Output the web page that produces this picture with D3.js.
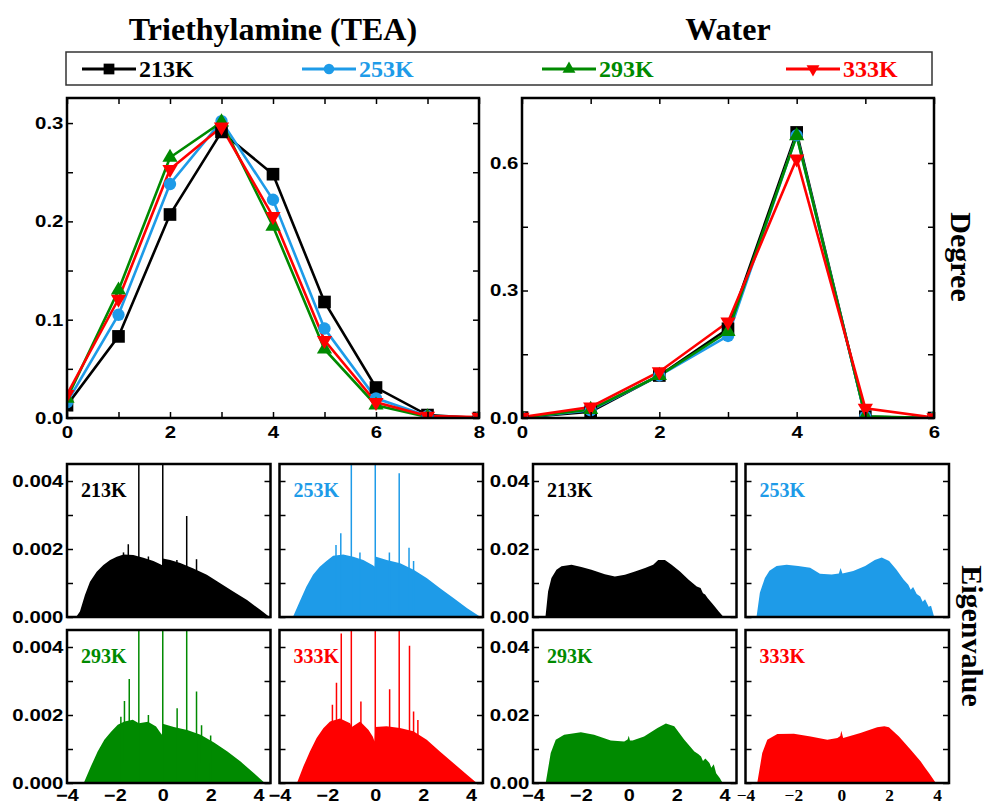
<!DOCTYPE html>
<html>
<head>
<meta charset="utf-8">
<script src="https://cdn.jsdelivr.net/npm/d3@7"></script>
<style>
  body { margin: 0; background: #fff; }
</style>
</head>
<body>
<div id="chart"></div>
<script>
// ---- data ----
const temps = ['213K', '253K', '293K', '333K'];

const teaDegrees = [0, 1, 2, 3, 4, 5, 6, 7, 8];
const teaP213 = [0.013, 0.083, 0.207, 0.291, 0.248, 0.118, 0.031, 0.003, 0.000];
const teaP253 = [0.016, 0.105, 0.238, 0.302, 0.222, 0.091, 0.020, 0.002, 0.000];
const teaP293 = [0.020, 0.130, 0.265, 0.301, 0.195, 0.070, 0.013, 0.001, 0.000];
const teaP333 = [0.024, 0.121, 0.253, 0.296, 0.205, 0.079, 0.016, 0.002, 0.001];

const waterDegrees = [0, 1, 2, 3, 4, 5, 6];
const waterP213 = [0.001, 0.015, 0.100, 0.210, 0.672, 0.003, 0.000];
const waterP253 = [0.001, 0.018, 0.100, 0.193, 0.665, 0.003, 0.000];
const waterP293 = [0.001, 0.020, 0.100, 0.203, 0.664, 0.004, 0.000];
const waterP333 = [0.002, 0.026, 0.109, 0.226, 0.610, 0.023, 0.001];

// eigenvalue spectra: envelope [eigenvalue, density] and narrow peaks [eigenvalue, height]
const teaEnv213 = [[-4, 0], [-3.62, 0], [-3.46, 0.00016], [-3.25, 0.00065], [-3.04, 0.00104], [-2.76, 0.00133],
  [-2.48, 0.00153], [-2.2, 0.00168], [-1.92, 0.00177], [-1.64, 0.00184], [-1.23, 0.00182], [-0.81, 0.00174],
  [-0.39, 0.00165], [-0.1, 0.00155], [-0.02, 0.00152], [0.0, 0.00172], [0.31, 0.00168], [0.73, 0.00159],
  [1.28, 0.00143], [1.84, 0.00124], [2.4, 0.00099], [2.96, 0.00074], [3.52, 0.0005], [4.07, 0.00021],
  [4.46, 0], [4.5, 0]];
const teaSpk213 = [[-1.64, 0.0019], [-1.44, 0.00214], [-1.0, 0.006], [-0.6, 0.00178], [0.0, 0.006],
  [0.59, 0.00168], [1.0, 0.00297], [1.41, 0.0017]];

const teaEnv253 = [[-4, 0], [-3.44, 0], [-3.16, 0.00045], [-2.88, 0.00089], [-2.6, 0.00124], [-2.32, 0.00148],
  [-2.04, 0.00165], [-1.76, 0.0018], [-1.34, 0.00184], [-0.92, 0.00177], [-0.5, 0.00168], [-0.1, 0.00152],
  [-0.02, 0.00148], [0.0, 0.00178], [0.48, 0.00168], [1.04, 0.00158], [1.6, 0.00139], [2.16, 0.00114],
  [2.72, 0.00084], [3.28, 0.00055], [3.84, 0.00026], [4.4, 0], [4.5, 0]];
const teaSpk253 = [[-1.64, 0.00212], [-1.44, 0.00246], [-1.0, 0.006], [-0.64, 0.0019], [0.0, 0.006],
  [0.59, 0.0019], [1.0, 0.00423], [1.41, 0.00204], [1.6, 0.00165]];

const teaEnv293 = [[-4, 0], [-3.3, 0], [-3.0, 0.00049], [-2.72, 0.00093], [-2.44, 0.00127], [-2.16, 0.00151],
  [-1.88, 0.00171], [-1.6, 0.00181], [-1.25, 0.00186], [-1.0, 0.00176], [-0.62, 0.0018], [-0.28, 0.00166],
  [-0.04, 0.00142], [0.0, 0.00174], [0.46, 0.00165], [1.02, 0.00156], [1.58, 0.00142], [2.14, 0.00119],
  [2.7, 0.00093], [3.25, 0.00063], [3.81, 0.00029], [4.26, 0], [4.5, 0]];
const teaSpk293 = [[-1.75, 0.00195], [-1.6, 0.00241], [-1.4, 0.00306], [-1.0, 0.006], [-0.6, 0.002],
  [0.0, 0.006], [0.6, 0.0022], [1.0, 0.006], [1.41, 0.00269], [1.62, 0.0017], [2.0, 0.0014]];

const teaEnv333 = [[-4, 0], [-3.27, 0], [-3.0, 0.00049], [-2.73, 0.00093], [-2.45, 0.00132], [-2.17, 0.00161],
  [-1.89, 0.00181], [-1.47, 0.0019], [-1.05, 0.00176], [-0.98, 0.00165], [-0.63, 0.00181], [-0.28, 0.00156],
  [-0.1, 0.00136], [-0.03, 0.00122], [0.0, 0.00165], [0.47, 0.00167], [1.03, 0.00162], [1.59, 0.00152],
  [2.15, 0.00127], [2.7, 0.00093], [3.26, 0.00059], [3.82, 0.00025], [4.24, 0], [4.5, 0]];
const teaSpk333 = [[-1.79, 0.0023], [-1.62, 0.00295], [-1.42, 0.0044], [-1.0, 0.006], [-0.6, 0.0024],
  [0.0, 0.006], [0.6, 0.00276], [1.0, 0.006], [1.43, 0.00404], [1.6, 0.0021], [1.78, 0.00185]];

const waterEnv213 = [[-4, 0], [-3.48, 0], [-3.37, 0.0075], [-3.23, 0.0115], [-3.02, 0.0139], [-2.81, 0.0149],
  [-2.39, 0.0154], [-1.98, 0.0147], [-1.56, 0.0139], [-1.0, 0.0126], [-0.58, 0.0119], [-0.16, 0.0124],
  [0.26, 0.0134], [0.68, 0.0144], [1.02, 0.0154], [1.23, 0.0168], [1.51, 0.0168], [1.79, 0.0154],
  [2.14, 0.0134], [2.49, 0.011], [2.84, 0.009], [3.0, 0.0085], [3.1, 0.007], [3.19, 0.0066], [3.3, 0.0055],
  [3.47, 0.0041], [3.6, 0.003], [3.75, 0.0017], [3.96, 0], [4.5, 0]];
const waterEnv253 = [[-4, 0], [-3.54, 0], [-3.4, 0.0071], [-3.19, 0.0115], [-3.0, 0.0136], [-2.7, 0.015],
  [-2.28, 0.0154], [-1.8, 0.015], [-1.3, 0.0145], [-0.89, 0.0127], [-0.4, 0.0125], [-0.1, 0.0128],
  [-0.03, 0.0144], [0.05, 0.0128], [0.5, 0.0135], [1.0, 0.015], [1.4, 0.0168], [1.69, 0.0175], [2.0, 0.0165],
  [2.3, 0.014], [2.6, 0.011], [2.8, 0.0095], [2.9, 0.008], [3.0, 0.0088], [3.15, 0.0068], [3.3, 0.006],
  [3.4, 0.0045], [3.5, 0.0052], [3.65, 0.003], [3.75, 0.0033], [3.88, 0], [4.5, 0]];
const waterEnv293 = [[-4, 0], [-3.47, 0], [-3.26, 0.0088], [-3.05, 0.0127], [-2.7, 0.0142], [-2.0, 0.0149],
  [-1.45, 0.0142], [-0.75, 0.0125], [-0.19, 0.0122], [-0.05, 0.0128], [0.0, 0.0139], [0.05, 0.0125],
  [0.16, 0.0125], [0.64, 0.0137], [1.2, 0.0162], [1.55, 0.0175], [1.9, 0.0167], [2.32, 0.0127],
  [2.74, 0.0093], [2.9, 0.0085], [3.02, 0.0078], [3.1, 0.0065], [3.2, 0.0072], [3.37, 0.0059],
  [3.45, 0.0045], [3.55, 0.0055], [3.65, 0.0029], [3.8, 0.0015], [3.92, 0], [4.5, 0]];
const waterEnv333 = [[-4, 0], [-3.51, 0], [-3.3, 0.0088], [-3.09, 0.0127], [-2.67, 0.0144], [-1.98, 0.0145],
  [-1.28, 0.0137], [-0.58, 0.0127], [-0.16, 0.0132], [-0.04, 0.0138], [0.0, 0.0154], [0.08, 0.0132],
  [0.8, 0.0147], [1.5, 0.0164], [1.8, 0.0167], [1.99, 0.0164], [2.41, 0.0137], [2.9, 0.0098],
  [3.32, 0.0063], [3.5, 0.0045], [3.67, 0.0029], [3.95, 0], [4.5, 0]];

// ticks
const teaXLabels = [0, 2, 4, 6, 8];
const teaXMinor = [0, 1, 2, 3, 4, 5, 6, 7, 8];
const teaYLabels = [0, 0.1, 0.2, 0.3];
const teaYMinor = [0, 0.05, 0.1, 0.15, 0.2, 0.25, 0.3];
const waterXLabels = [0, 2, 4, 6];
const waterXMinor = [0, 1, 2, 3, 4, 5, 6];
const waterYLabels = [0, 0.3, 0.6];
const waterYMinor = [0, 0.15, 0.3, 0.45, 0.6];
const specXLabels = [-4, -2, 0, 2, 4];
const teaSpecYLabels = [0, 0.002, 0.004];
const teaSpecYMinor = [0, 0.001, 0.002, 0.003, 0.004];
const waterSpecYLabels = [0, 0.02, 0.04];
const waterSpecYMinor = [0, 0.01, 0.02, 0.03, 0.04];

// ---- styles ----
const colors = ['#000000', '#1e9be8', '#008a00', '#ff0000'];
const symbols = [
  d3.symbol(d3.symbolSquare, 160)(),
  d3.symbol(d3.symbolCircle, 120)(),
  d3.symbol(d3.symbolTriangle, 100)(),
  d3.symbol(d3.symbolTriangle, 100)()
];
const symbolRot = [0, 0, 0, 180];
const SANS = '"Liberation Sans", Arial, sans-serif';
const SERIF = '"Liberation Serif", "Times New Roman", serif';

const W = 988, H = 805;
const svg = d3.select('#chart').append('svg').attr('width', W).attr('height', H);
const defs = svg.append('defs');
let clipCount = 0;

function panel(x0, y0, w, h) {
  const id = 'clip' + (clipCount++);
  defs.append('clipPath').attr('id', id).append('rect').attr('width', w).attr('height', h);
  const g = svg.append('g').attr('transform', `translate(${x0},${y0})`);
  const plot = g.append('g').attr('clip-path', `url(#${id})`);
  return { g, plot };
}

function ticksIn(g, x, y, w, h, xMinor, yMinor) {
  const parts = [];
  if (xMinor) {
    parts.push(g.append('g').attr('transform', `translate(0,${h})`).call(d3.axisBottom(x).tickValues(xMinor).tickSize(-6).tickFormat('')));
    parts.push(g.append('g').call(d3.axisTop(x).tickValues(xMinor).tickSize(-6).tickFormat('')));
  }
  parts.push(g.append('g').call(d3.axisLeft(y).tickValues(yMinor).tickSize(-6).tickFormat('')));
  parts.push(g.append('g').attr('transform', `translate(${w},0)`).call(d3.axisRight(y).tickValues(yMinor).tickSize(-6).tickFormat('')));
  parts.forEach(p => {
    p.select('.domain').remove();
    p.selectAll('line').attr('stroke', '#000').attr('stroke-width', 1.5);
  });
}

function labels(g, axis, transform, font, sx, size) {
  const a = g.append('g').attr('transform', transform).call(axis);
  a.select('.domain').remove();
  a.selectAll('line').remove();
  a.selectAll('text')
    .attr('font-family', font).attr('font-weight', 'bold').attr('font-size', size || 17)
    .attr('fill', '#000').attr('transform', `scale(${sx},1)`);
}

function frame(g, w, h) {
  g.append('rect').attr('width', w).attr('height', h)
    .attr('fill', 'none').attr('stroke', '#000').attr('stroke-width', 2.5);
}

function degreePanel(x0, y0, w, h, degrees, series, yMax, xLab, xMin, yLab, yMin) {
  const { g, plot } = panel(x0, y0, w, h);
  const x = d3.scaleLinear().domain([degrees[0], degrees[degrees.length - 1]]).range([0, w]);
  const y = d3.scaleLinear().domain([0, yMax]).range([h, 0]);
  const line = d3.line().x((d, i) => x(degrees[i])).y(d => y(d));
  series.forEach((vals, k) => {
    plot.append('path').datum(vals).attr('d', line)
      .attr('fill', 'none').attr('stroke', colors[k]).attr('stroke-width', 2.6);
  });
  series.forEach((vals, k) => {
    plot.selectAll(null).data(vals).enter().append('path')
      .attr('d', symbols[k])
      .attr('transform', (d, i) => `translate(${x(degrees[i])},${y(d)}) rotate(${symbolRot[k]})`)
      .attr('fill', colors[k]);
  });
  ticksIn(g, x, y, w, h, xMin, yMin);
  labels(g, d3.axisBottom(x).tickValues(xLab).tickSize(0).tickPadding(8).tickFormat(d3.format('d')),
    `translate(0,${h})`, SANS, 1.2);
  labels(g, d3.axisLeft(y).tickValues(yLab).tickSize(0).tickPadding(3).tickFormat(d3.format('.1f')),
    'translate(0,0)', SANS, 1.2);
  frame(g, w, h);
}

function specPanel(x0, y0, w, h, env, spikes, k, yMax, yLab, yMin, yFmt, showY, xFont) {
  const { g, plot } = panel(x0, y0, w, h);
  const x = d3.scaleLinear().domain([-4, 4.5]).range([0, w]);
  const y = d3.scaleLinear().domain([0, yMax]).range([h, 0]);
  const area = d3.area().x(d => x(d[0])).y0(y(0)).y1(d => y(d[1]));
  plot.append('path').datum(env).attr('d', area).attr('fill', colors[k]);
  if (spikes) {
    plot.selectAll(null).data(spikes).enter().append('line')
      .attr('x1', d => x(d[0])).attr('x2', d => x(d[0]))
      .attr('y1', y(0)).attr('y2', d => y(d[1]))
      .attr('stroke', colors[k]).attr('stroke-width', 1.5);
  }
  ticksIn(g, x, y, w, h, null, yMin);
  if (showY) {
    labels(g, d3.axisLeft(y).tickValues(yLab).tickSize(0).tickPadding(3).tickFormat(d3.format(yFmt)),
      'translate(0,0)', SANS, 1.2);
  }
  if (xFont) {
    labels(g, d3.axisBottom(x).tickValues(specXLabels).tickSize(0).tickPadding(6).tickFormat(d3.format('d')),
      `translate(0,${h})`, xFont, xFont === SANS ? 1.2 : 1.05, 16.5);
  }
  g.append('text').attr('x', 14).attr('y', 33)
    .attr('font-family', SERIF).attr('font-weight', 'bold').attr('font-size', 20)
    .attr('fill', colors[k]).text(temps[k]);
  frame(g, w, h);
}

// ---- titles ----
svg.append('text').attr('x', 273).attr('y', 40).attr('text-anchor', 'middle')
  .attr('font-family', SERIF).attr('font-weight', 'bold').attr('font-size', 32)
  .text('Triethylamine (TEA)');
svg.append('text').attr('x', 728).attr('y', 40).attr('text-anchor', 'middle')
  .attr('font-family', SERIF).attr('font-weight', 'bold').attr('font-size', 32)
  .text('Water');

// ---- legend ----
const legendX = [82, 302, 542, 786];
const legend = svg.append('g');
legend.append('rect').attr('x', 66).attr('y', 52).attr('width', 866).attr('height', 33)
  .attr('fill', 'none').attr('stroke', '#333').attr('stroke-width', 1.5);
temps.forEach((t, k) => {
  const lx = legendX[k];
  legend.append('line').attr('x1', lx).attr('x2', lx + 54).attr('y1', 69).attr('y2', 69)
    .attr('stroke', colors[k]).attr('stroke-width', 3);
  legend.append('path').attr('d', symbols[k])
    .attr('transform', `translate(${lx + 27},69) rotate(${symbolRot[k]}) scale(0.85)`)
    .attr('fill', colors[k]);
  legend.append('text').attr('x', lx + 57).attr('y', 77)
    .attr('font-family', SERIF).attr('font-weight', 'bold').attr('font-size', 24)
    .attr('fill', colors[k]).text(t);
});

// ---- degree distributions ----
degreePanel(67, 98, 412, 320, teaDegrees, [teaP213, teaP253, teaP293, teaP333], 0.3255,
  teaXLabels, teaXMinor, teaYLabels, teaYMinor);
degreePanel(522, 98, 412, 320, waterDegrees, [waterP213, waterP253, waterP293, waterP333], 0.753,
  waterXLabels, waterXMinor, waterYLabels, waterYMinor);

// ---- eigenvalue spectra ----
const colX = [67, 279.5, 533, 745.5];
const rowY = [464, 630];
const pw = 203.5, ph = 153;
specPanel(colX[0], rowY[0], pw, ph, teaEnv213, teaSpk213, 0, 0.0045, teaSpecYLabels, teaSpecYMinor, '.3f', true, null);
specPanel(colX[1], rowY[0], pw, ph, teaEnv253, teaSpk253, 1, 0.0045, teaSpecYLabels, teaSpecYMinor, '.3f', false, null);
specPanel(colX[0], rowY[1], pw, ph, teaEnv293, teaSpk293, 2, 0.0045, teaSpecYLabels, teaSpecYMinor, '.3f', true, SANS);
specPanel(colX[1], rowY[1], pw, ph, teaEnv333, teaSpk333, 3, 0.0045, teaSpecYLabels, teaSpecYMinor, '.3f', false, SANS);
specPanel(colX[2], rowY[0], pw, ph, waterEnv213, null, 0, 0.045, waterSpecYLabels, waterSpecYMinor, '.2f', true, null);
specPanel(colX[3], rowY[0], pw, ph, waterEnv253, null, 1, 0.045, waterSpecYLabels, waterSpecYMinor, '.2f', false, null);
specPanel(colX[2], rowY[1], pw, ph, waterEnv293, null, 2, 0.045, waterSpecYLabels, waterSpecYMinor, '.2f', true, SANS);
specPanel(colX[3], rowY[1], pw, ph, waterEnv333, null, 3, 0.045, waterSpecYLabels, waterSpecYMinor, '.2f', false, SERIF);

// ---- side labels ----
svg.append('text').attr('transform', 'translate(951,257) rotate(90)').attr('text-anchor', 'middle')
  .attr('font-family', SERIF).attr('font-weight', 'bold').attr('font-size', 30).text('Degree');
svg.append('text').attr('transform', 'translate(962,636) rotate(90)').attr('text-anchor', 'middle')
  .attr('font-family', SERIF).attr('font-weight', 'bold').attr('font-size', 30).text('Eigenvalue');
</script>
</body>
</html>
